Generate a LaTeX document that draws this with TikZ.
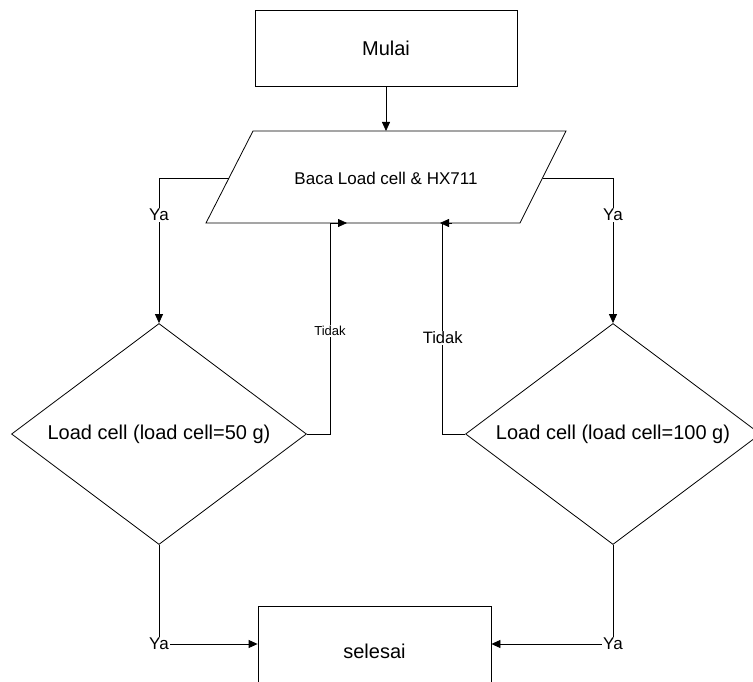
\documentclass[tikz,border=0pt]{standalone}
\usepackage{fontspec}
\setmainfont{Liberation Sans}
\usetikzlibrary{shapes.geometric,arrows.meta}
\begin{document}
\begin{tikzpicture}[x=1pt,y=-1pt,
  line width=0.8pt,
  box/.style={draw,rectangle,inner sep=0pt},
  dec/.style={draw,diamond,inner sep=0pt,minimum width=295pt,minimum height=221pt},
  arr/.style={-{Triangle[length=9pt,width=8pt]}},
  big/.style={font=\fontsize{20}{24}\selectfont},
  mid/.style={font=\fontsize{17}{20}\selectfont},
  lab/.style={fill=white,inner sep=1pt,font=\fontsize{17}{20}\selectfont},
  smalllab/.style={fill=white,inner sep=1pt,font=\fontsize{13}{16}\selectfont}]
\clip (0,0) rectangle (753,682);
\fill[white] (0,0) rectangle (753,682);

% start
\node[box,big,minimum width=262pt,minimum height=76pt] (mulai) at (386,48) {Mulai};

% input parallelogram
\coordinate (pa) at (253,131);
\coordinate (pb) at (566,131);
\coordinate (pc) at (520,223);
\coordinate (pd) at (206,223);
\draw (pa) -- (pb) -- (pc) -- (pd) -- cycle;
\node[mid] (baca) at (386,178) {Baca Load cell \& HX711};
\coordinate (ptop) at (386,131);
\coordinate (pl) at (229,178);
\coordinate (pr) at (543,178);

% decisions
\node[dec] (d1) at (159,434) {};
\node[big] (t1) at (d1.center) {Load cell (load cell=50 g)};
\node[dec] (d2) at (613,434) {};
\node[big] (t2) at (d2.center) {Load cell (load cell=100 g)};

% end
\node[box,big,minimum width=233pt,minimum height=90pt] (selesai) at (374.5,651) {selesai};
\coordinate (sl) at (selesai.west |- 0,644);
\coordinate (sr) at (selesai.east |- 0,644);

% connectors
\draw[arr] (mulai.south) -- (ptop);

\draw[arr] (pl) -| (d1.north);
\node[lab] (ya1) at (159,215) {Ya};
\draw[arr] (pr) -| (d2.north);
\node[lab] (ya2) at (613,215) {Ya};

\coordinate (tl) at (330,223);
\coordinate (tlend) at (347,223);
\draw[arr] (d1.east) -| (tl) -- (tlend);
\node[smalllab] (tidak1) at (330,331) {Tidak};

\coordinate (tr) at (442.7,223);
\coordinate (trs) at (452,223);
\coordinate (trend) at (440,223);
\draw (d2.west) -| (tr) -- (trs);
\draw[arr] (trs) -- (trend);
\node[lab,font=\fontsize{16.5}{20}\selectfont] (tidak2) at (442.7,338) {Tidak};

\draw[arr] (d1.south) |- (sl);
\node[lab] (ya3) at (159,644) {Ya};
\draw[arr] (d2.south) |- (sr);
\node[lab] (ya4) at (613,644) {Ya};
\end{tikzpicture}
\end{document}
